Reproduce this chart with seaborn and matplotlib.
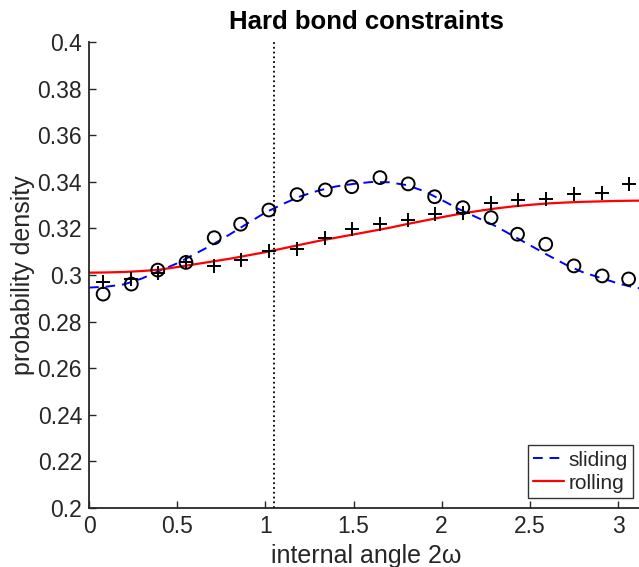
import numpy as np
import pandas as pd
import matplotlib
matplotlib.use("Agg")
import matplotlib.pyplot as plt
import seaborn as sns

# histogram bin centres (internal angle 2w) and sampled densities
bin_x = [0.08, 0.24, 0.39, 0.55, 0.71, 0.86, 1.02, 1.18, 1.34, 1.49,
         1.65, 1.81, 1.96, 2.12, 2.28, 2.43, 2.59, 2.75, 2.91, 3.06]
sliding_pts = [0.2918, 0.2961, 0.3021, 0.3054, 0.3160, 0.3218, 0.3279, 0.3345, 0.3365, 0.3379,
               0.3418, 0.3391, 0.3336, 0.3289, 0.3246, 0.3175, 0.3132, 0.3039, 0.2996, 0.2983]
rolling_pts = [0.2970, 0.2982, 0.3007, 0.3054, 0.3039, 0.3064, 0.3103, 0.3112, 0.3160, 0.3196,
               0.3219, 0.3236, 0.3260, 0.3265, 0.3308, 0.3322, 0.3326, 0.3346, 0.3351, 0.3389]

# theoretical curves
curve_x = [0.0, 0.1, 0.2, 0.3, 0.4, 0.5, 0.6, 0.7, 0.8, 0.9, 1.0, 1.1, 1.2, 1.3, 1.4, 1.5, 1.6,
           1.7, 1.8, 1.9, 2.0, 2.1, 2.2, 2.3, 2.4, 2.5, 2.6, 2.7, 2.8, 2.9, 3.0, 3.1, 3.1416]
sliding_curve = [0.2946, 0.2950, 0.2960, 0.2985, 0.3018, 0.3050, 0.3090, 0.3130, 0.3175, 0.3222,
                 0.3268, 0.3305, 0.3338, 0.3362, 0.3380, 0.3391, 0.3399, 0.3398, 0.3386, 0.3360,
                 0.3322, 0.3282, 0.3247, 0.3212, 0.3170, 0.3128, 0.3086, 0.3046, 0.3012, 0.2988,
                 0.2964, 0.2945, 0.2942]
rolling_curve = [0.3010, 0.3011, 0.3013, 0.3017, 0.3023, 0.3034, 0.3046, 0.3058, 0.3070, 0.3084,
                 0.3098, 0.3114, 0.3130, 0.3146, 0.3160, 0.3174, 0.3188, 0.3202, 0.3218, 0.3233,
                 0.3248, 0.3262, 0.3274, 0.3285, 0.3294, 0.3301, 0.3307, 0.3311, 0.3314, 0.3316,
                 0.3318, 0.3319, 0.3319]
cutoff = 1.047

sns.set_style("ticks")
plt.rcParams['font.family'] = ['Liberation Sans', 'DejaVu Sans']
dark = '#262626'
plt.rcParams.update({'axes.edgecolor': dark, 'xtick.color': dark, 'ytick.color': dark,
                     'text.color': dark, 'axes.labelcolor': dark})

fig = plt.figure(figsize=(6.39, 5.67), dpi=100)
ax = fig.add_axes([89 / 639, 59 / 567, 554 / 639, 466 / 567])

ax.axvline(cutoff, color='k', linestyle=':', linewidth=1.3)

curves = pd.DataFrame({'x': curve_x, 'sliding': sliding_curve, 'rolling': rolling_curve})
sns.lineplot(data=curves, x='x', y='sliding', ax=ax, color='blue', linewidth=1.4,
             linestyle=(0, (5, 3.5)), label='sliding')
sns.lineplot(data=curves, x='x', y='rolling', ax=ax, color='red', linewidth=1.6,
             label='rolling')

pts = pd.DataFrame({'x': bin_x, 'sliding': sliding_pts, 'rolling': rolling_pts})
sns.scatterplot(data=pts, x='x', y='sliding', ax=ax, marker='o', s=85,
                facecolor='none', edgecolor='k', linewidth=1.4, zorder=4)
sns.scatterplot(data=pts, x='x', y='rolling', ax=ax, marker='+', s=110,
                color='k', linewidth=1.4, zorder=4)

ax.set_xlim(0, np.pi)
ax.set_ylim(0.2, 0.4)
ax.set_xticks([0, 0.5, 1, 1.5, 2, 2.5, 3])
ax.set_xticklabels(['0', '0.5', '1', '1.5', '2', '2.5', '3'])
ax.set_yticks(np.arange(0.2, 0.401, 0.02))
ax.set_yticklabels(['0.2', '0.22', '0.24', '0.26', '0.28', '0.3', '0.32', '0.34', '0.36',
                    '0.38', '0.4'])
ax.tick_params(direction='in', length=5, width=1, labelsize=16.5)
ax.tick_params(axis='x', pad=5)
ax.tick_params(axis='y', pad=5)
for s in ['left', 'bottom']:
    ax.spines[s].set_linewidth(1.3)
sns.despine(ax=ax)

ax.set_xlabel('internal angle 2ω', fontsize=18, labelpad=4)
ax.set_ylabel('probability density', fontsize=18, labelpad=2)
ax.set_title('Hard bond constraints', fontsize=18.5, fontweight='bold', color='k', pad=9.5)

leg = ax.legend(loc='lower right', bbox_to_anchor=((633 - 89) / 554, 10 / 466),
                borderaxespad=0, fontsize=15, frameon=True, fancybox=False,
                handlelength=1.5, handletextpad=0.2, labelspacing=0.2, borderpad=0.25)
leg.get_frame().set_edgecolor('k')
leg.get_frame().set_linewidth(1.0)

fig.savefig('out.png', dpi=100)
